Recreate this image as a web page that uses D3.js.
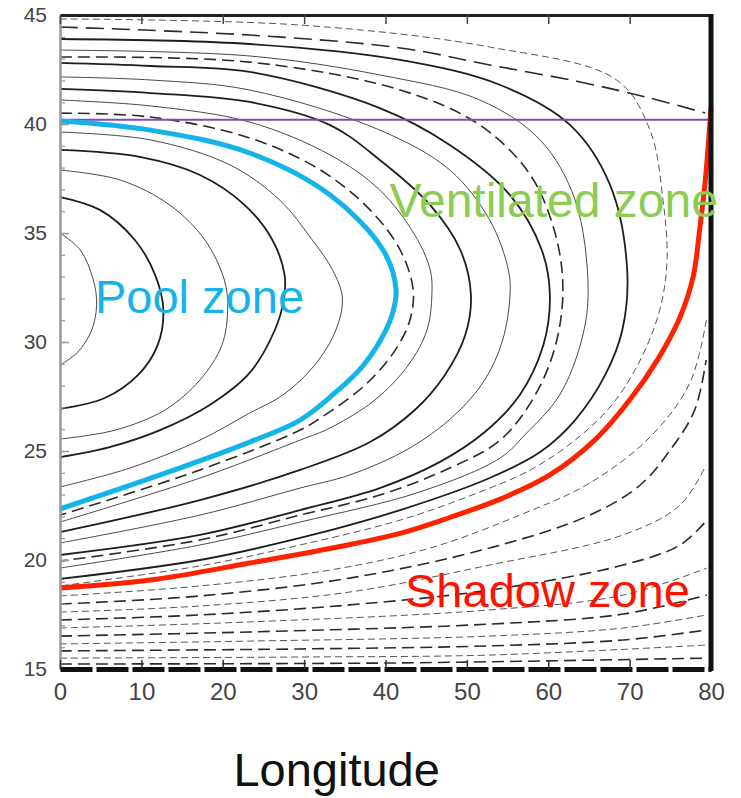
<!DOCTYPE html>
<html>
<head>
<meta charset="utf-8">
<script src="https://cdn.jsdelivr.net/npm/d3@7"></script>
<style>
body { margin: 0; background: #fff; }
svg { display: block; font-family: "Liberation Sans", Arial, sans-serif; }
</style>
</head>
<body>
<svg id="chart"></svg>
<script>
// tick labels
const X_TICKS = [0, 10, 20, 30, 40, 50, 60, 70, 80];
const Y_TICKS = [15, 20, 25, 30, 35, 40, 45];

// contours inside the pool zone, [longitude, latitude]
const POOL_C1 = [[0,35.00],[2.5,34.22],[4.1,32.84],[4.5,31.70],[3.9,30.55],[2.2,29.54],[0,28.94]];
const POOL_C2 = [[0,36.65],[4.9,36.06],[9.2,34.68],[11.7,33.07],[12.7,31.47],[12.0,29.86],[9.6,28.49],[5.5,27.43],[0,26.93]];
const POOL_C3 = [[0,37.89],[7.4,37.43],[13.5,36.28],[17.8,34.68],[20.2,32.84],[20.6,31.47],[19.9,29.86],[17.2,28.26],[12.9,26.88],[6.8,25.96],[0,25.55]];
const POOL_C4 = [[0,38.81],[9.8,38.49],[17.2,37.66],[22.7,36.28],[26.1,34.68],[27.6,33.07],[27.5,31.93],[26.4,30.55],[23.3,28.58],[18.4,27.11],[12.3,25.96],[6.1,25.18],[0,24.72]];
const POOL_C5 = [[0,39.63],[11.1,39.27],[20.9,38.12],[27.0,36.51],[31.0,34.68],[33.5,33.30],[34.7,32.02],[33.9,30.55],[31.3,28.94],[27.4,27.57],[23.3,26.74],[17.2,25.50],[8.6,24.22],[0,23.35]];
const POOL_LINES = [POOL_C1, POOL_C2, POOL_C3, POOL_C4, POOL_C5];
const POOL_KINDS = ["thin", "thick", "thin", "thick", "thin"];

// contours of the ventilated zone
const VENT_A  = [[0,40.50],[11.1,40.32],[23.3,39.36],[32.0,37.89],[38.1,36.06],[41.8,34.22],[43.4,32.39],[43.0,31.01],[41.2,29.63],[37.5,28.03],[32.0,26.51],[29.5,25.96],[17.2,24.13],[0,22.06]];
const VENT_S1 = [[0,41.10],[11.1,40.83],[23.3,40.09],[33.2,38.58],[39.3,36.97],[43.6,34.91],[45.5,33.30],[45.7,32.16],[45.1,30.55],[42.8,28.94],[38.7,27.34],[33.2,26.06],[29.5,25.50],[17.2,23.76],[0,21.74]];
const VENT_S2 = [[0,41.61],[11.1,41.42],[23.3,41.01],[33.2,39.95],[39.3,38.35],[45.5,36.28],[49.2,34.22],[50.5,32.16],[49.8,30.32],[47.3,28.49],[43.6,26.88],[38.1,25.41],[29.5,24.13],[17.2,22.75],[0,21.28]];
const VENT_S3 = [[0,42.16],[11.1,42.02],[23.3,41.56],[39.3,39.72],[47.9,37.89],[52.8,35.60],[55.1,33.30],[55.3,32.16],[54.4,30.09],[52.2,28.26],[48.5,26.65],[43.0,25.14],[35.6,23.90],[29.5,23.30],[17.2,22.06],[0,20.78]];
const VENT_S4 = [[0,42.80],[11.1,42.66],[23.3,42.39],[39.3,40.73],[47.9,39.04],[55.3,36.74],[59.2,34.22],[60.2,32.16],[59.4,29.86],[56.5,27.57],[52.2,25.87],[46.7,24.50],[39.3,23.30],[29.5,22.29],[17.2,21.15],[0,20.23]];
const VENT_B  = [[0,43.07],[23.3,42.84],[41.8,41.56],[51.6,39.95],[57.8,37.66],[60.9,34.91],[61.8,32.39],[60.9,29.86],[58.4,27.57],[54.1,25.50],[47.9,24.22],[39.3,22.98],[29.5,22.06],[17.2,20.92],[0,19.95]];
const VENT_S5 = [[0,43.39],[23.3,43.12],[39.3,42.25],[51.6,41.10],[59.0,39.27],[63.3,36.51],[64.9,32.39],[64.1,30.09],[61.4,27.57],[57.1,25.73],[54.1,24.68],[44.2,23.12],[29.5,21.74],[17.2,20.69],[0,19.63]];
const VENT_S6 = [[0,43.90],[23.3,43.67],[41.8,42.94],[54.1,41.79],[62.7,39.95],[67.6,37.20],[69.7,33.30],[69.1,30.55],[67.0,28.49],[63.3,26.42],[59.0,24.95],[52.8,23.76],[41.8,22.29],[29.5,21.01],[17.2,20.00],[0,19.13]];
const VENT_C  = [[0,44.82],[29.5,44.54],[52.8,43.53],[68.4,42.02],[72.5,39.72],[74.1,36.51],[74.6,33.76],[73.7,31.47],[71.3,29.17],[67.8,27.11],[63.3,25.50],[57.8,24.13],[51.6,23.12],[41.8,21.83],[29.5,20.69],[17.2,19.73],[0,18.81]];
const VENT_D0 = [[0,44.45],[23.3,44.08],[41.8,43.49],[52.8,42.71],[63.9,41.93],[72.5,41.19],[79.3,40.50]];
const VENT_LINES = [VENT_A, VENT_S1, VENT_S2, VENT_S3, VENT_S4, VENT_B, VENT_S5, VENT_S6, VENT_C, VENT_D0];
const VENT_KINDS = ["dash", "thin", "thick", "thin", "thick", "dash", "thin", "thick", "thindash", "longdash"];

// contours of the shadow zone
const SHADOW_1  = [[0,18.35],[17.2,18.81],[33.2,19.54],[45.5,20.55],[56.5,22.06],[65.1,23.53],[72.5,25.64],[77.4,28.12],[79.5,31.15]];
const SHADOW_2  = [[0,17.98],[17.2,18.35],[35.6,19.17],[52.8,20.55],[65.1,22.06],[71.3,23.44],[75.0,25.05],[78.0,26.88],[79.4,29.17]];
const SHADOW_3  = [[0,17.61],[17.2,17.89],[35.6,18.53],[52.8,19.77],[69.2,21.15],[76.2,22.52],[79.4,24.36]];
const SHADOW_4  = [[0,17.25],[17.2,17.48],[35.6,17.94],[52.8,18.62],[69.2,19.77],[76.2,20.69],[79.5,21.83]];
const SHADOW_5  = [[0,16.88],[23.3,17.16],[52.8,17.71],[69.2,18.39],[79.5,19.63]];
const SHADOW_6  = [[0,16.51],[23.3,16.70],[52.8,17.06],[69.2,17.52],[79.5,18.39]];
const SHADOW_7  = [[0,16.15],[23.3,16.28],[52.8,16.51],[69.2,16.88],[79.5,17.48]];
const SHADOW_8  = [[0,15.83],[29.5,15.92],[52.8,16.06],[69.2,16.33],[79.5,16.79]];
const SHADOW_9  = [[0,15.50],[29.5,15.55],[52.8,15.64],[79.5,16.10]];
const SHADOW_10 = [[0,15.23],[41.8,15.28],[79.5,15.50]];
const SHADOW_LINES = [SHADOW_1, SHADOW_2, SHADOW_3, SHADOW_4, SHADOW_5, SHADOW_6, SHADOW_7, SHADOW_8, SHADOW_9, SHADOW_10];
const SHADOW_KINDS = ["thindash", "dash", "thindash", "dash", "thindash", "dash", "thindash", "dash", "thindash", "dash"];

// the three highlighted lines
const POOL_EDGE = [[0,40.14],[11.1,39.72],[23.3,38.67],[33.2,36.74],[39.7,34.22],[41.3,32.39],[40.8,31.24],[39.4,30.09],[37.1,28.85],[33.5,27.57],[29.5,26.42],[23.3,25.41],[12.3,23.90],[0,22.34]];
const SHADOW_EDGE = [[0,18.72],[11.1,19.08],[23.3,19.86],[33.5,20.55],[41.8,21.22],[47.9,21.95],[54.4,22.84],[60.2,23.90],[65.7,25.50],[70.0,27.34],[73.4,29.17],[76.2,31.15],[77.8,32.98],[78.6,35.14],[79.3,37.43],[80,40.73]];
const OUTCROP_LAT = 40.2;

const WIDTH = 741, HEIGHT = 798;
const PLOT = { left: 60, right: 711, top: 15, bottom: 669 };

const STYLES = {
    thick:    { stroke: "#1e1e1e", width: 1.8, dash: null },
    thin:     { stroke: "#4a4a4a", width: 1.0, dash: null },
    dash:     { stroke: "#2a2a2a", width: 1.6, dash: "12,6" },
    thindash: { stroke: "#555",    width: 1.0, dash: "7,4" },
    longdash: { stroke: "#2a2a2a", width: 1.6, dash: "18,8" },
};

const svg = d3.select("#chart").attr("width", WIDTH).attr("height", HEIGHT);
svg.append("rect").attr("width", WIDTH).attr("height", HEIGHT).attr("fill", "#fff");

const x = d3.scaleLinear().domain([0, 80]).range([PLOT.left, PLOT.right]);
const y = d3.scaleLinear().domain([15, 45]).range([PLOT.bottom, PLOT.top]);

svg.append("defs").append("clipPath").attr("id", "plot-clip")
    .append("rect")
    .attr("x", PLOT.left).attr("y", PLOT.top)
    .attr("width", PLOT.right - PLOT.left).attr("height", PLOT.bottom - PLOT.top);

const line = d3.line()
    .x(d => x(d[0]))
    .y(d => y(d[1]))
    .curve(d3.curveCatmullRom.alpha(0.5));

const plot = svg.append("g").attr("clip-path", "url(#plot-clip)");

function draw_set(lines, kinds) {
    lines.forEach((pts, i) => {
        const s = STYLES[kinds[i]];
        plot.append("path")
            .attr("d", line(pts))
            .attr("fill", "none")
            .attr("stroke", s.stroke)
            .attr("stroke-width", s.width)
            .attr("stroke-dasharray", s.dash);
    });
}

draw_set(SHADOW_LINES, SHADOW_KINDS);
draw_set(VENT_LINES, VENT_KINDS);
draw_set(POOL_LINES, POOL_KINDS);

// outcrop latitude (purple)
plot.append("line")
    .attr("x1", x(0)).attr("x2", x(80))
    .attr("y1", y(OUTCROP_LAT)).attr("y2", y(OUTCROP_LAT))
    .attr("stroke", "#8447b5").attr("stroke-width", 2);

plot.append("path").attr("d", line(POOL_EDGE))
    .attr("fill", "none").attr("stroke", "#14b4ea").attr("stroke-width", 5);

svg.append("path").attr("d", line(SHADOW_EDGE))
    .attr("fill", "none").attr("stroke", "#ff2200").attr("stroke-width", 5);

// frame & axes
const left_axis = svg.append("g").attr("transform", `translate(${PLOT.left},0)`)
    .call(d3.axisLeft(y).tickValues(Y_TICKS).tickSizeInner(-9).tickSizeOuter(0).tickPadding(13));
left_axis.select(".domain").attr("stroke", "#999").attr("stroke-width", 2.5);
left_axis.selectAll(".tick line").attr("stroke", "#999").attr("stroke-width", 1.5);
left_axis.selectAll("text").attr("fill", "#444").style("font-size", "21px");

svg.append("g").attr("transform", `translate(${PLOT.left},0)`)
    .call(d3.axisLeft(y).tickValues(d3.range(15, 46)).tickSize(-5).tickFormat(""))
    .call(g => g.select(".domain").remove())
    .selectAll(".tick line").attr("stroke", "#999").attr("stroke-width", 1.2);

const bottom_axis = svg.append("g").attr("transform", `translate(0,${PLOT.bottom})`)
    .call(d3.axisBottom(x).tickValues(X_TICKS).tickSizeInner(-9).tickSizeOuter(0).tickPadding(14));
bottom_axis.select(".domain").attr("stroke", "#111").attr("stroke-width", 5).attr("stroke-dasharray", "32,4");
bottom_axis.selectAll(".tick line").attr("stroke", "#333").attr("stroke-width", 1.5);
bottom_axis.selectAll("text").attr("fill", "#444").style("font-size", "24px");

const top_axis = svg.append("g").attr("transform", `translate(0,${PLOT.top})`)
    .call(d3.axisTop(x).tickValues(X_TICKS).tickSizeInner(-9).tickSizeOuter(0).tickFormat(""));
top_axis.select(".domain").attr("stroke", "#222").attr("stroke-width", 3);
top_axis.selectAll(".tick line").attr("stroke", "#444").attr("stroke-width", 1.5);

svg.append("line")
    .attr("x1", PLOT.right).attr("x2", PLOT.right)
    .attr("y1", PLOT.top - 1).attr("y2", PLOT.bottom + 2)
    .attr("stroke", "#111").attr("stroke-width", 5);

// zone labels
const label = (txt, lon, lat, color, anchor) => svg.append("text")
    .attr("x", x(lon)).attr("y", y(lat))
    .attr("fill", color)
    .attr("text-anchor", anchor || "start")
    .style("font-size", "47px")
    .text(txt);

label("Pool zone", 4.3, 31.33, "#14b4ea");
label("Ventilated zone", 40.5, 35.74, "#8dcc52").style("font-size", "48px");
label("Shadow zone", 42.4, 17.85, "#ff1100");

svg.append("text")
    .attr("x", x(34)).attr("y", 786)
    .attr("text-anchor", "middle")
    .attr("fill", "#111")
    .style("font-size", "47px")
    .text("Longitude");
</script>
</body>
</html>
